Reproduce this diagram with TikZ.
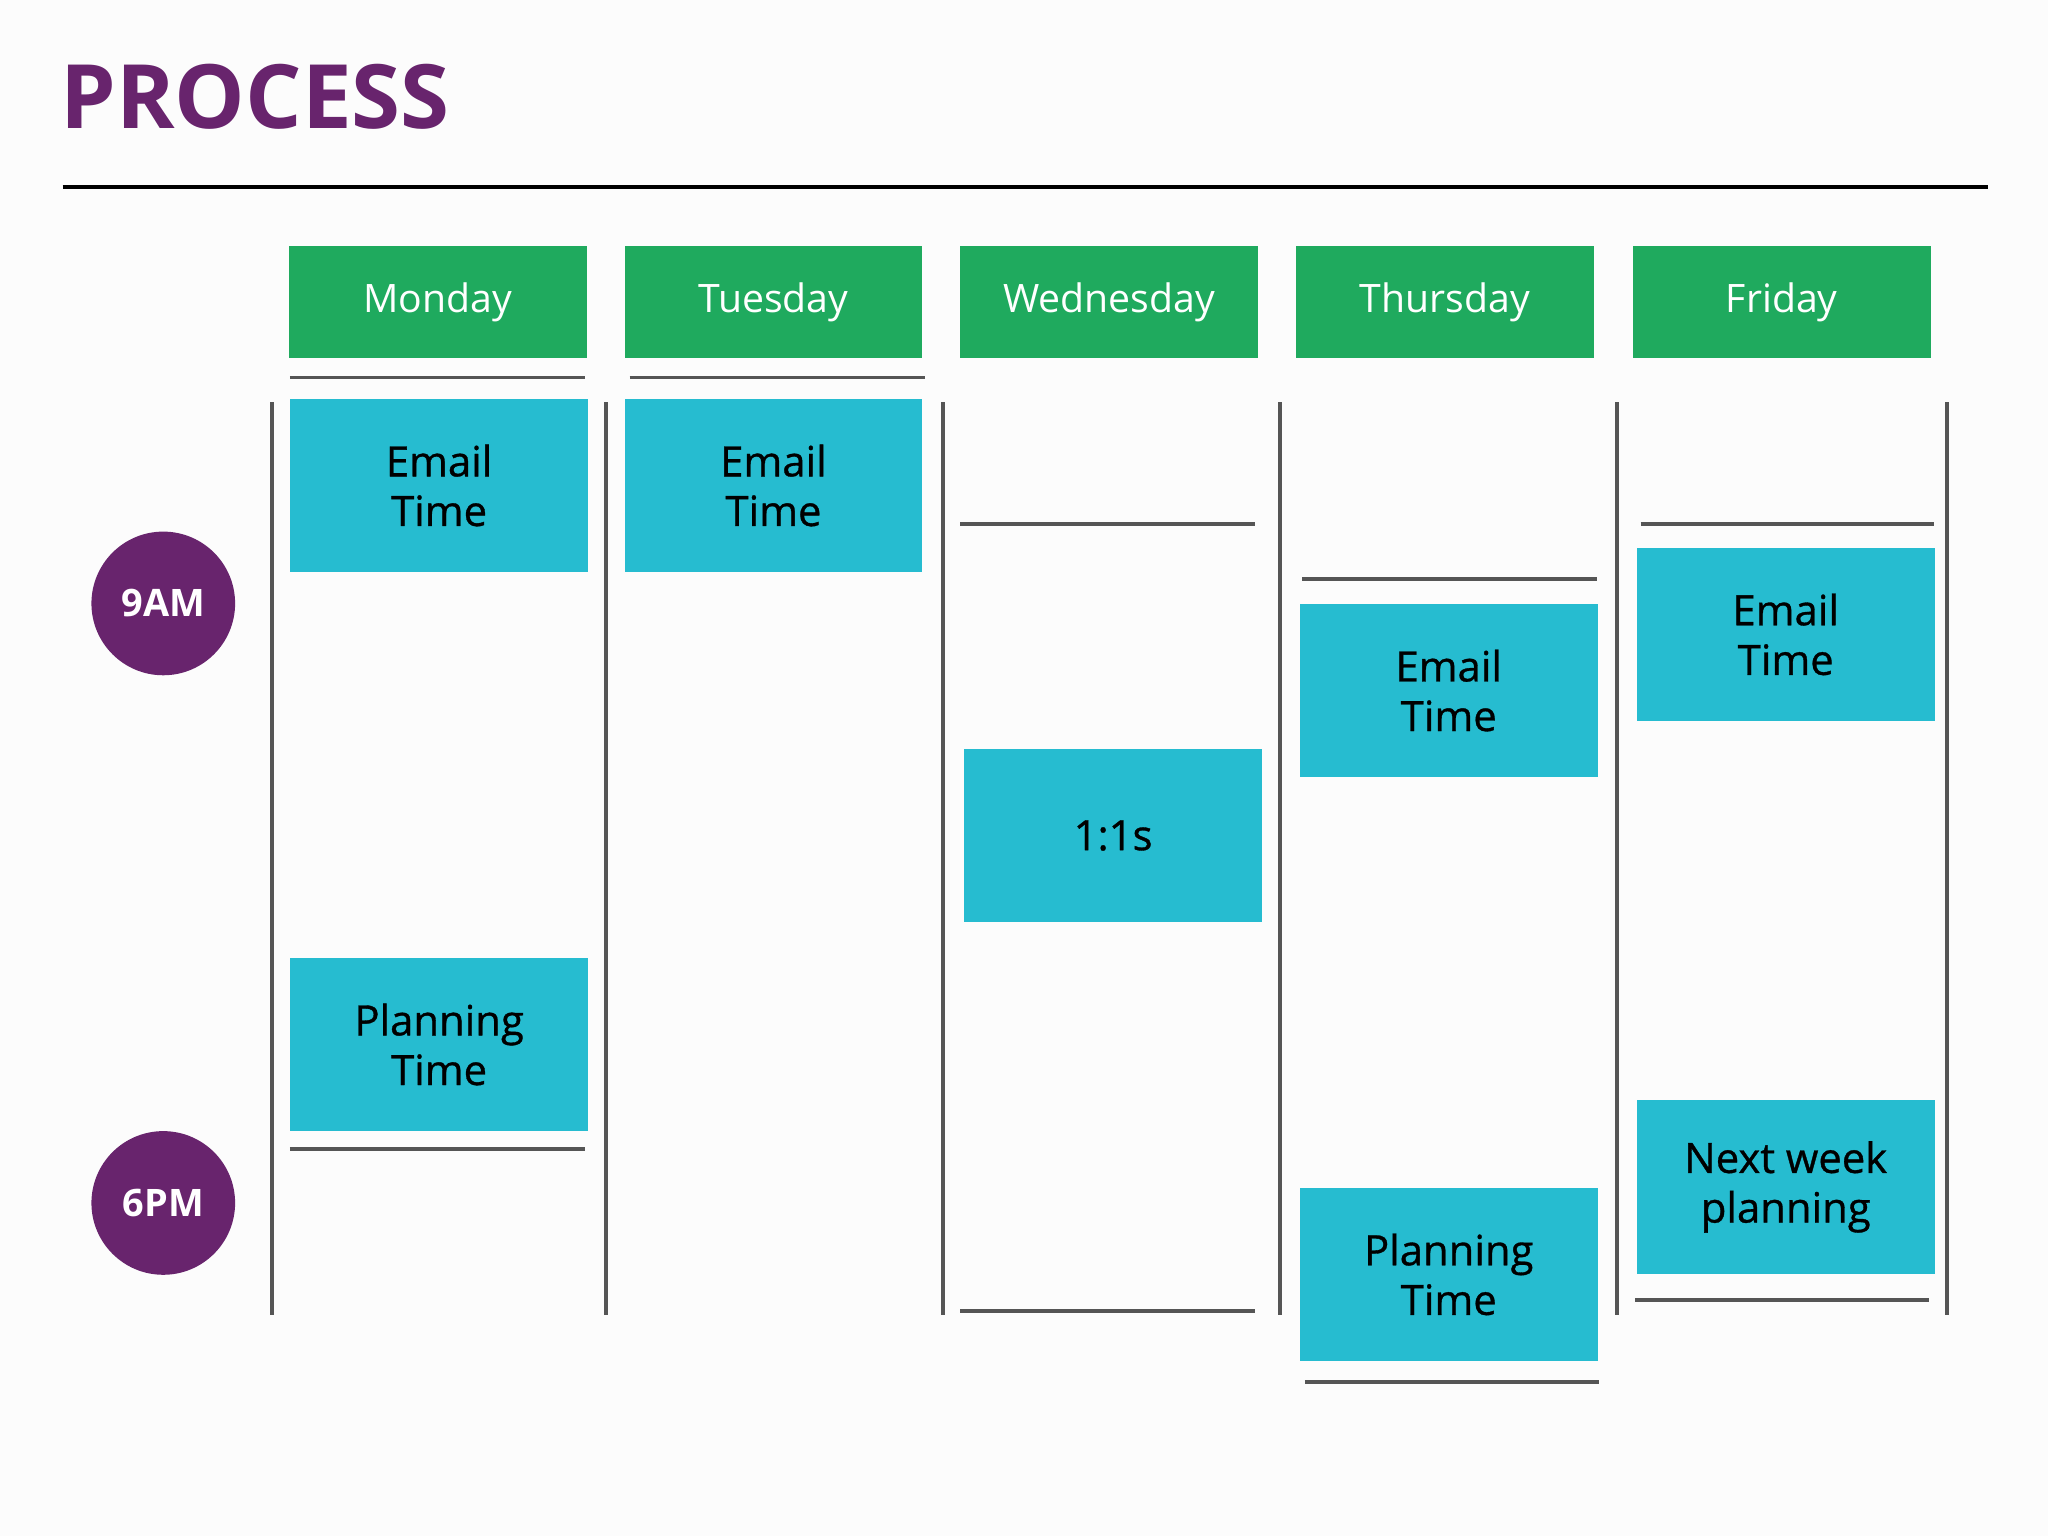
\documentclass[tikz,border=0pt]{standalone}
\usepackage{fontspec}
\setmainfont{Open Sans}
\newfontfamily\semib[FakeBold=0.8]{Open Sans}
\definecolor{purp}{HTML}{68246D}
\definecolor{grn}{HTML}{1FAA5E}
\definecolor{cyn}{HTML}{26BCD0}
\definecolor{gry}{HTML}{555555}
\begin{document}
\begin{tikzpicture}[x=1pt,y=-1pt,
  hdr/.style={fill=grn,minimum width=228pt,minimum height=86pt,inner sep=0,text=white,font=\fontsize{30}{32}\selectfont,anchor=north west},
  blk/.style={fill=cyn,minimum width=228pt,minimum height=133pt,inner sep=0,align=center,font=\semib\fontsize{32}{38}\selectfont,anchor=north west},
  vl/.style={gry,line width=3pt},
  hl/.style={gry,line width=3pt},
  tm/.style={circle,fill=purp,minimum size=110pt,inner sep=0,text=white,font=\bfseries\fontsize{29}{30}\selectfont}]
\fill[white!98!gray] (0,0) rectangle (1568,1176);
\useasboundingbox (0,0) rectangle (1568,1176);
\node[anchor=base west,inner sep=0,text=purp,font=\bfseries\fontsize{68}{70}\selectfont] (title) at (46,98) {PROCESS};
\coordinate (l1) at (48,143); \coordinate (l2) at (1522,143);
\draw[black,line width=3pt] (l1) -- (l2);
\node[hdr] (mon) at (221,188) {Monday};
\node[hdr] (tue) at (478,188) {Tuesday};
\node[hdr] (wed) at (735,188) {Wednesday};
\node[hdr] (thu) at (992,188) {Thursday};
\node[hdr] (fri) at (1250,188) {Friday};
\foreach \x in {208,464,722,980,1238,1491} \draw[vl] (\x,308) -- (\x,1007);
\draw[hl] (222,289) -- (448,289);
\draw[hl] (482,289) -- (708,289);
\draw[hl] (735,401) -- (961,401);
\draw[hl] (735,1004) -- (961,1004);
\draw[hl] (997,443) -- (1223,443);
\draw[hl] (999,1058) -- (1224,1058);
\draw[hl] (1256,401) -- (1481,401);
\draw[hl] (1252,995) -- (1477,995);
\draw[hl] (222,880) -- (448,880);
\node[blk] (m1) at (222,305) {Email\\Time};
\node[blk] (t1) at (478,305) {Email\\Time};
\node[blk] (w1) at (738,573) {1:1s};
\node[blk] (th1) at (995,462) {Email\\Time};
\node[blk] (f1) at (1253,419) {Email\\Time};
\node[blk] (m2) at (222,733) {Planning\\Time};
\node[blk] (th2) at (995,909) {Planning\\Time};
\node[blk] (f2) at (1253,842) {Next week\\planning};
\node[tm] (am) at (125,462) {9AM};
\node[tm] (pm) at (125,921) {6PM};
\end{tikzpicture}
\end{document}
